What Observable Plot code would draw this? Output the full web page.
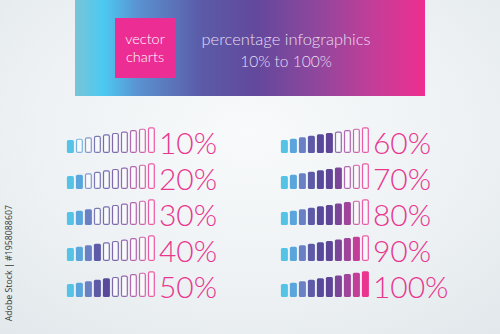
<!DOCTYPE html>
<html><head><meta charset="utf-8">
<script src="https://cdn.jsdelivr.net/npm/d3@7"></script>
<script src="https://cdn.jsdelivr.net/npm/@observablehq/plot@0.6"></script>
<style>
html,body{margin:0;padding:0;width:500px;height:334px;overflow:hidden;}
body{position:relative;background:radial-gradient(ellipse 75% 80% at 50% 40%, #f8fafb 0%, #eef2f4 55%, #e2e8eb 100%);font-family:Lato, "Open Sans", sans-serif;}
#banner{position:absolute;left:75px;top:0;width:350px;height:96px;background:linear-gradient(90deg,#78c4d6 0%,#4ccaf2 8%,#5a92d0 18%,#5b5ba8 36%,#63489c 52%,#8c479d 68%,#c23e98 85%,#ee2e90 100%);}
#box{position:absolute;left:40px;top:18px;width:60px;height:60px;background:#ec2d94;color:#fff;font-weight:300;font-size:14.5px;line-height:17.6px;display:flex;flex-direction:column;align-items:center;justify-content:center;text-align:center;}
#headline{position:absolute;left:124px;top:28px;width:174px;text-align:center;color:#e6dff2;font-weight:300;font-size:16.5px;line-height:22px;white-space:nowrap;}
#headline div:nth-child(2){font-size:15.5px;}
#chart{position:absolute;left:0;top:100px;}
#credit{position:absolute;left:3px;top:205px;writing-mode:vertical-rl;transform:rotate(180deg);font-size:8.8px;color:#3a3a3a;font-family:"Open Sans",sans-serif;white-space:nowrap;}
</style></head>
<body>
<div id="banner"><div id="box"></div><div id="headline"></div></div>
<div id="chart"></div>
<div id="credit"></div>
<script>
// ---- data ----
const boxLines = ["vector", "charts"];
const headlineLines = ["percentage infographics", "10% to 100%"];
const creditText = "Adobe Stock | #1958088607";
const percents = [10, 20, 30, 40, 50, 60, 70, 80, 90, 100];
const levels = [1, 2, 3, 4, 5, 6, 7, 8, 9, 10];
const slotColors = ["#55c3e5", "#5aa5dc", "#6a80c4", "#5d5aa8", "#59499c", "#5f4598", "#7b4698", "#a0449b", "#c33e98", "#e9358f"];
const labelColor = "#e8378f";
const emptyFill = "#f7f9fa";
const baseLevel = -8.06;

// ---- build ----
document.getElementById("box").innerHTML = boxLines.map(t => `<div>${t}</div>`).join("");
document.getElementById("headline").innerHTML = headlineLines.map(t => `<div>${t}</div>`).join("");
document.getElementById("credit").textContent = creditText;

const bars = percents.flatMap((p, k) => levels.map((lv, i) => ({
  pct: p, col: Math.floor(k / 5), row: k % 5, slot: lv, level: lv,
  filled: lv * 10 <= p, color: slotColors[i]
})));
const labelData = percents.map((p, k) => ({label: p + "%", col: Math.floor(k / 5), row: k % 5}));

const chart = Plot.plot({
  width: 500, height: 234,
  marginTop: 15.7, marginBottom: 36.7, marginLeft: 62.1, marginRight: 126.8,
  facet: {marginTop: 0, marginBottom: 0, marginLeft: 0, marginRight: 0},
  fx: {domain: [0, 1], paddingInner: 0.553, paddingOuter: 0, axis: null},
  fy: {domain: [0, 1, 2, 3, 4], padding: 0, axis: null},
  x: {type: "band", domain: levels, padding: 0.2, axis: null},
  y: {domain: [baseLevel, 17.15], axis: null},
  color: {type: "identity"},
  style: {background: "transparent", overflow: "visible"},
  marks: [
    Plot.barY(bars.filter(d => !d.filled), {fx: "col", fy: "row", x: "slot", y1: baseLevel, y2: "level",
      fill: emptyFill, stroke: "color", strokeWidth: 1.2, strokeOpacity: 0.8, inset: 0.6, rx: 1.5}),
    Plot.barY(bars.filter(d => d.filled), {fx: "col", fy: "row", x: "slot", y1: baseLevel, y2: "level",
      fill: "color", rx: 1.5}),
    Plot.text(labelData, {fx: "col", fy: "row", x: 10, y: baseLevel, text: "label",
      textAnchor: "start", lineAnchor: "bottom", dx: 7, fontSize: 30, fontWeight: 300,
      fontFamily: "Lato, sans-serif", fill: labelColor})
  ]
});
document.getElementById("chart").appendChild(chart);
</script>
</body></html>
